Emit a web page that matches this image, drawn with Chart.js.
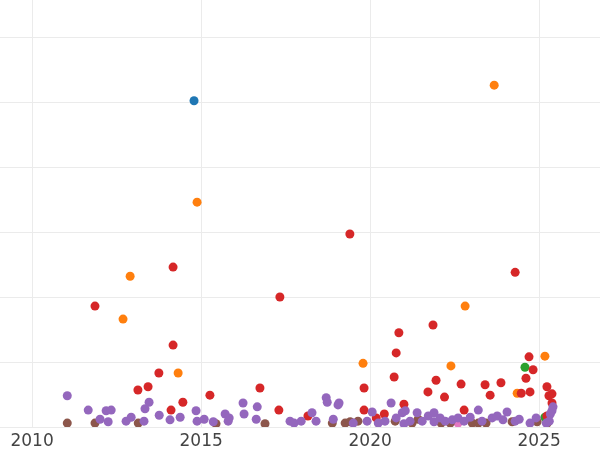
<!DOCTYPE html>
<html><head><meta charset="utf-8">
<script src="https://cdn.jsdelivr.net/npm/chart.js@4"></script>
<style>html,body{margin:0;padding:0;background:#fff}#w{width:600px;height:450px}</style>
</head><body><div id="w"><canvas id="c"></canvas></div>
<script>
const xTicks = [2010, 2015, 2020, 2025];
const blueX = [2014.79], blueY = [50.2];
const orangeX = [2023.67,2014.88,2012.9,2012.69,2022.81,2019.79,2022.39,2014.32,2025.17,2024.35];
const orangeY = [52.6,34.6,23.2,16.6,18.6,9.8,9.4,8.3,10.9,5.2];
const greenX = [2024.58,2025.17], greenY = [9.2,1.5];
const pinkX = [2022.6], pinkY = [0.6];
const redX = [2011.86,2014.17,2014.17,2017.33,2019.4,2024.29,2021.86,2020.85,2020.77,2024.7,2024.82,2013.75,2013.43,2013.13,2014.46,2015.26,2016.74,2014.11,2017.3,2019.82,2019.82,2020.71,2021.0,2021.95,2021.71,2022.2,2022.69,2022.78,2023.4,2023.55,2023.87,2024.47,2024.61,2024.73,2025.23,2025.29,2025.38,2025.23,2018.16,2020.42,2020.18,2025.38];
const redY = [18.6,24.6,12.6,20,29.7,23.8,15.7,14.5,11.4,10.8,8.8,8.3,6.2,5.7,3.8,4.9,6.0,2.6,2.6,6.0,2.6,7.7,3.5,7.2,5.4,4.6,6.6,2.6,6.5,4.9,6.8,5.2,7.5,5.4,6.2,4.8,5.1,1.7,1.7,2.0,1.4,3.7];
const purpleX = [2011.04,2011.66,2012.19,2012.34,2012.01,2012.25,2012.78,2012.93,2013.34,2013.46,2013.31,2013.76,2014.08,2014.38,2014.85,2014.88,2015.09,2015.36,2015.71,2015.83,2015.8,2016.24,2016.27,2016.66,2016.63,2017.63,2017.75,2017.96,2018.28,2018.4,2018.7,2018.73,2018.91,2019.05,2019.08,2019.5,2019.91,2020.06,2020.24,2020.44,2020.62,2020.77,2020.95,2021.04,2021.18,2021.39,2021.54,2021.72,2021.89,2022.07,2022.22,2022.43,2022.6,2022.78,2022.96,2023.2,2023.31,2023.61,2023.76,2023.93,2024.05,2024.29,2024.41,2024.73,2024.91,2025.21,2025.33,2025.41,2025.38,2025.3,2021.89,2021.0];
const purpleY = [4.8,2.6,2.5,2.6,1.2,0.8,0.9,1.5,2.8,3.8,0.9,1.8,1.1,1.5,2.5,0.9,1.2,0.8,2.0,1.4,0.9,3.7,2.0,3.1,1.2,0.9,0.6,0.9,2.2,0.9,4.5,3.8,1.2,3.4,3.7,0.6,0.9,2.3,0.6,0.9,3.7,1.4,2.2,2.5,0.9,2.2,0.9,1.7,2.2,1.4,0.9,1.1,1.4,0.9,1.5,2.6,0.9,1.4,1.7,1.1,2.3,0.9,1.2,0.6,1.4,0.6,2.0,3.1,2.5,0.9,0.8,0.5];
const brownX = [2011.04,2011.86,2013.14,2015.44,2016.89,2018.88,2019.26,2019.41,2019.64,2020.74,2021.24,2021.42,2022.1,2022.37,2023.02,2023.2,2023.43,2024.2,2024.94,2025.24];
const brownY = [0.6,0.6,0.6,0.5,0.5,0.6,0.6,0.8,0.9,0.9,0.6,1.2,0.6,0.6,0.6,0.6,0.6,0.8,0.8,0.6];

const pts = (xs, ys) => xs.map((x, i) => ({x, y: ys[i]}));
const ds = (xs, ys, c) => ({data: pts(xs, ys), backgroundColor: c, borderColor: c, pointRadius: 4.5, pointHoverRadius: 4.5, borderWidth: 0});

new Chart(document.getElementById('c'), {
  type: 'scatter',
  data: {datasets: [
    ds(purpleX, purpleY, '#9467bd'),
    ds(brownX, brownY, '#8c564b'),
    ds(redX, redY, '#d62728'),
    ds(orangeX, orangeY, '#ff7f0e'),
    ds(greenX, greenY, '#2ca02c'),
    ds(pinkX, pinkY, '#e377c2'),
    ds(blueX, blueY, '#1f77b4')
  ]},
  options: {
    responsive: true, maintainAspectRatio: false, animation: false,
    layout: {padding: 0, autoPadding: false},
    plugins: {legend: {display: false}, tooltip: {enabled: false}},
    scales: {
      x: {
        type: 'linear', min: 2009.05, max: 2026.8,
        afterBuildTicks: s => { s.ticks = xTicks.map(v => ({value: v})); },
        afterFit: s => { s.height = 23; },
        grid: {color: '#ebebeb', drawTicks: false}, border: {display: false},
        ticks: {color: '#444', font: {family: 'DejaVu Sans', size: 17}, padding: 4, callback: v => String(v), maxRotation: 0}
      },
      y: {
        min: 0, max: 65.7,
        afterBuildTicks: s => { s.ticks = [0,10,20,30,40,50,60].map(v => ({value: v})); },
        afterFit: s => { s.width = 0; },
        grid: {color: '#ebebeb', drawTicks: false}, border: {display: false},
        ticks: {display: false}
      }
    }
  }
});
</script></body></html>
